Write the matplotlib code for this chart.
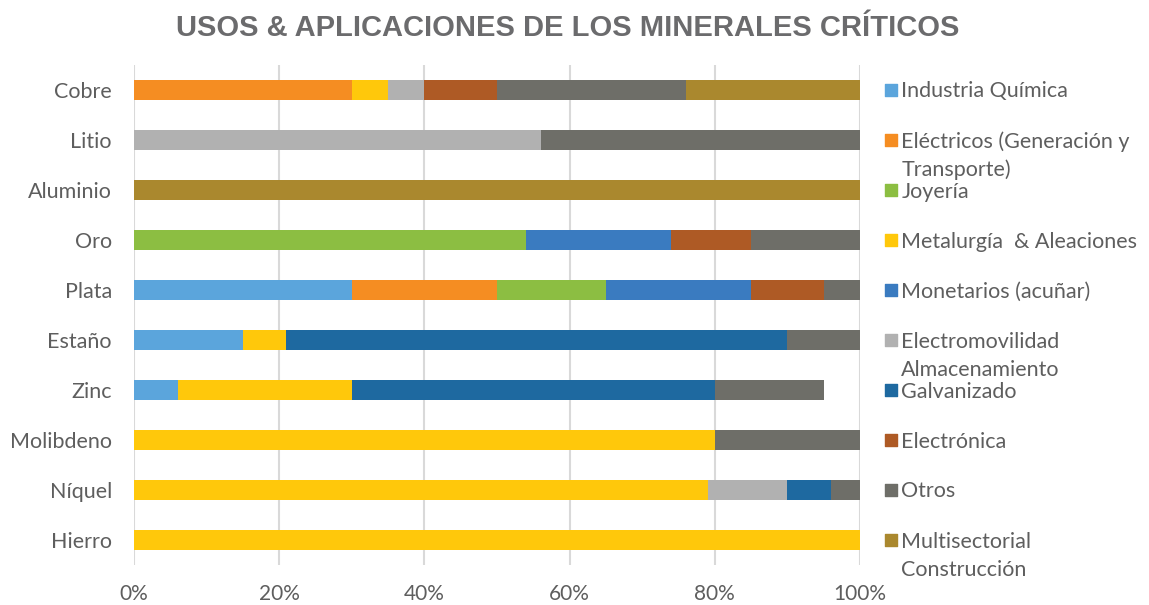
import numpy as np
import matplotlib.pyplot as plt
import matplotlib.transforms as mtransforms

# Datos (porcentaje de uso por mineral)
minerales = ["Cobre", "Litio", "Aluminio", "Oro", "Plata", "Estaño", "Zinc",
             "Molibdeno", "Níquel", "Hierro"]

industria_quimica = [0, 0, 0, 0, 30, 15, 6, 0, 0, 0]
electricos = [30, 0, 0, 0, 20, 0, 0, 0, 0, 0]
joyeria = [0, 0, 0, 54, 15, 0, 0, 0, 0, 0]
metalurgia = [5, 0, 0, 0, 0, 6, 24, 80, 79, 100]
monetarios = [0, 0, 0, 20, 20, 0, 0, 0, 0, 0]
electromovilidad = [5, 56, 0, 0, 0, 0, 0, 0, 11, 0]
galvanizado = [0, 0, 0, 0, 0, 69, 50, 0, 6, 0]
electronica = [10, 0, 0, 11, 10, 0, 0, 0, 0, 0]
otros = [26, 44, 0, 15, 5, 10, 15, 20, 4, 0]
multisectorial = [24, 0, 100, 0, 0, 0, 0, 0, 0, 0]

series = [industria_quimica, electricos, joyeria, metalurgia, monetarios,
          electromovilidad, galvanizado, electronica, otros, multisectorial]
etiquetas = [["Industria Química"],
             ["Eléctricos (Generación y", "Transporte)"],
             ["Joyería"],
             ["Metalurgía  & Aleaciones"],
             ["Monetarios (acuñar)"],
             ["Electromovilidad", "Almacenamiento"],
             ["Galvanizado"],
             ["Electrónica"],
             ["Otros"],
             ["Multisectorial", "Construcción"]]
colores = ["#5BA5DC", "#F58D22", "#8CBE42", "#FFC80B", "#3A7BC0",
           "#B1B1B1", "#1E69A0", "#AE5A25", "#6E6E68", "#AA882E"]

texto = "#5E5E5E"

fig = plt.figure(figsize=(11.49, 6.05), dpi=100)
ax = fig.add_axes([134 / 1149, 40 / 605, 726 / 1149, 500 / 605])

y = np.arange(len(minerales))
izq = np.zeros(len(minerales))
for vals, col in zip(series, colores):
    vals = np.array(vals, dtype=float)
    ax.barh(y, vals, left=izq, height=0.4, color=col, zorder=3)
    izq += vals

ax.set_ylim(len(minerales) - 0.5, -0.5)
ax.set_xlim(0, 100)
ax.set_yticks(y)
ax.set_yticklabels(minerales, fontsize=15.5, color=texto, family="Lato")
ax.set_xticks(np.arange(0, 101, 20))
ax.set_xticklabels([f"{v}%" for v in range(0, 101, 20)], fontsize=15,
                   color=texto, family="Lato")
ax.tick_params(axis="both", length=0)
ax.tick_params(axis="y", pad=16)
ax.tick_params(axis="x", pad=14)
ax.grid(axis="x", color="#D9D9D9", linewidth=1.5, zorder=0)
for s in ax.spines.values():
    s.set_visible(False)

# Leyenda a la derecha, alineada con las filas
trans = mtransforms.blended_transform_factory(ax.transAxes, ax.transData)
for i, (lineas, col) in enumerate(zip(etiquetas, colores)):
    ax.scatter([1.0427], [i], marker="s", s=74, color=col, transform=trans,
               clip_on=False, zorder=4)
    for j, linea in enumerate(lineas):
        ax.text(1.057, i + 0.03 + j * 0.56, linea, transform=trans,
                fontsize=15.5, color=texto, family="Lato", va="center",
                ha="left")

fig.text(0.494, 0.953, "USOS & APLICACIONES DE LOS MINERALES CRÍTICOS",
         ha="center", va="center", fontsize=21, fontweight="bold",
         color="#6B6B6D", family="Liberation Sans")

fig.savefig("out.png", dpi=100)
